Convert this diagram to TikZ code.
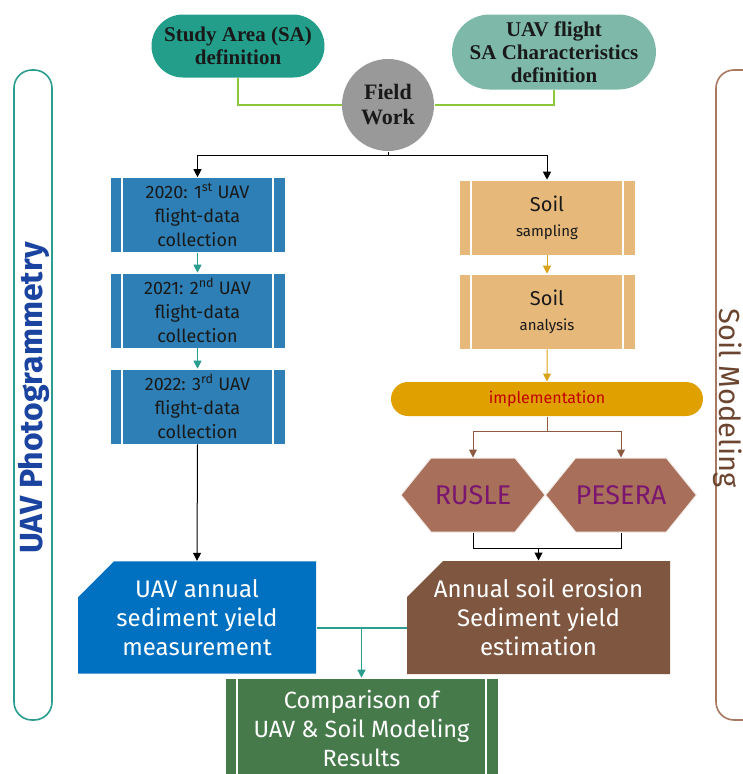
\documentclass[tikz,border=0pt]{standalone}
\usepackage{fontspec}
\setsansfont{Fira Sans}
\newfontfamily\titleserif{Liberation Serif}
\usetikzlibrary{arrows.meta,shapes.misc,shapes.symbols}
\definecolor{sateal}{HTML}{229E8A}
\definecolor{flightteal}{HTML}{7DB8A8}
\definecolor{fieldgrey}{HTML}{999999}
\definecolor{linkgreen}{HTML}{8CC63F}
\definecolor{yearblue}{HTML}{2E7FB5}
\definecolor{stepteal}{HTML}{2A9D8F}
\definecolor{soilsand}{HTML}{E6B87A}
\definecolor{soilgold}{HTML}{D9A21B}
\definecolor{implgold}{HTML}{E0A000}
\definecolor{impltext}{HTML}{C00000}
\definecolor{modelbrown}{HTML}{8B5A40}
\definecolor{hexfill}{HTML}{A8705A}
\definecolor{hextext}{HTML}{7A1670}
\definecolor{uavblue}{HTML}{0070C0}
\definecolor{erosionbrown}{HTML}{7F5640}
\definecolor{compgreen}{HTML}{467A4B}
\definecolor{photoblue}{HTML}{1A44A0}
\definecolor{sidebrown}{HTML}{A87860}
\definecolor{sidetext}{HTML}{6B4530}

\begin{document}
\begin{tikzpicture}[
  x=1pt,
  y=-1pt,
  line width=1pt,
  >={Triangle[width=8pt,length=8pt]},
  pill/.style={rounded rectangle, align=center, inner sep=2pt,
    font=\titleserif\fontsize{21}{23}\selectfont\bfseries, text=black!90},
  procbox/.style={draw=white, line width=0.6pt, align=center, inner sep=0pt,
    minimum width=175pt, minimum height=75pt,
    path picture={
      \draw[white, line width=1.2pt]
        ([xshift=12pt]path picture bounding box.north west) --
        ([xshift=12pt]path picture bounding box.south west);
      \draw[white, line width=1.2pt]
        ([xshift=-12pt]path picture bounding box.north east) --
        ([xshift=-12pt]path picture bounding box.south east);
    }},
  hexbox/.style={signal, signal to=west and east, signal pointer angle=102,
    fill=hexfill, draw=white!85!hexfill, line width=1pt, inner sep=0pt,
    minimum width=144pt, minimum height=74pt, text=hextext,
    font=\sffamily\fontsize{27}{29}\selectfont},
  cutbox/.style={chamfered rectangle, chamfered rectangle corners=north west,
    chamfered rectangle xsep=18pt, chamfered rectangle ysep=18pt,
    inner sep=0pt, align=center, text=white,
    font=\sffamily\fontsize{24}{29}\selectfont},
  soiltext/.style={font=\sffamily\fontsize{20}{25}\selectfont},
  sidebar/.style={line width=1.6pt, rounded corners=18pt}
]
  \useasboundingbox (0,0) rectangle (743,774);

  % side bands
  \draw[sidebar, stepteal] (14,70) rectangle (52,720);
  \draw[sidebar, sidebrown] (716,70) rectangle (770,720);
  \node[rotate=90, text=photoblue, font=\sffamily\bfseries\fontsize{32}{34}\selectfont]
    (photo) at (34,398) {UAV Photogrammetry};
  \node[rotate=-90, inner sep=0pt, text=sidetext, font=\sffamily\fontsize{29}{31}\selectfont]
    (model) at (728,398) {Soil Modeling};

  % top
  \node[pill, fill=sateal, minimum width=177pt, minimum height=63pt]
    (sa) at (238,46) {Study Area (SA)\\definition};
  \node[pill, fill=flightteal, minimum width=192pt, minimum height=75pt]
    (flight) at (554,52) {UAV flight\\SA Characteristics\\definition};
  \node[circle, fill=fieldgrey, minimum size=92pt, inner sep=0pt, align=center,
    font=\titleserif\fontsize{22}{25}\selectfont\bfseries, text=black!90]
    (field) at (388,105) {Field\\Work};

  \draw[linkgreen, line width=1.2pt] (sa.south) |- (field.west);
  \draw[linkgreen, line width=1.2pt] (flight.south) |- (field.east);

  % UAV branch
  \begin{scope}[every node/.style={procbox, fill=yearblue, text=black!90,
      font=\sffamily\fontsize{18}{24}\selectfont}]
    \node (y20) at (197.5,215) {2020: 1\textsuperscript{st} UAV\\flight-data\\collection};
    \node (y21) at (197.5,310.5) {2021: 2\textsuperscript{nd} UAV\\flight-data\\collection};
    \node (y22) at (197.5,406.5) {2022: 3\textsuperscript{rd} UAV\\flight-data\\collection};
  \end{scope}

  % soil branch
  \begin{scope}[every node/.style={procbox, fill=soilsand, minimum width=176pt,
      soiltext, text=black!90}]
    \node (samp) at (547,217.5) {Soil\\{\fontsize{15}{17}\selectfont sampling}};
    \node (anal) at (547,311.5) {Soil\\{\fontsize{15}{17}\selectfont analysis}};
  \end{scope}

  \node[rounded rectangle, fill=implgold, minimum width=312pt, minimum height=34pt,
    inner sep=0pt, text=impltext, font=\sffamily\fontsize{16}{18}\selectfont]
    (impl) at (547,399) {implementation};

  \node[hexbox] (rusle) at (473,495) {RUSLE};
  \node[hexbox] (pesera) at (621,495) {PESERA};

  % outputs
  \node[cutbox, fill=uavblue, minimum width=238pt, minimum height=99pt]
    (uavsed) at (197,617.5) {UAV annual\\sediment yield\\measurement};
  \node[cutbox, fill=erosionbrown, minimum width=263pt, minimum height=99pt]
    (erosion) at (538.5,617.5) {Annual soil erosion\\Sediment yield\\estimation};

  \node[procbox, fill=compgreen, minimum width=273pt, minimum height=100pt,
    text=white, font=\sffamily\fontsize{23.5}{29}\selectfont]
    (comp) at (361.5,728) {Comparison of\\UAV \& Soil Modeling\\Results};

  % connectors
  \draw (field.south) -- ++(0,4) coordinate (fsplit);
  \draw[->] (fsplit) -| (y20.north);
  \draw[->] (fsplit) -| (samp.north);

  \draw[->, stepteal] (y20) -- (y21);
  \draw[->, stepteal] (y21) -- (y22);
  \draw[->] (y22.south) -- (uavsed.north);

  \draw[->, soilgold] (samp) -- (anal);
  \draw[->, soilgold] (anal) -- (impl);

  \draw[modelbrown] (impl.south) -- ++(0,15) coordinate (isplit);
  \draw[->, modelbrown] (isplit) -| (rusle.north);
  \draw[->, modelbrown] (isplit) -| (pesera.north);

  \draw (rusle.south) -- ++(0,16) coordinate (rjoin) -| (pesera.south);
  \draw[->] (rjoin -| erosion.north) -- (erosion.north);

  \coordinate (tjoin) at (362,628);
  \draw[stepteal, line width=1.4pt] (tjoin -| uavsed.east) -- (tjoin -| erosion.west);
  \draw[->, stepteal, line width=1.4pt] (tjoin -| comp.north) -- (comp.north);
\end{tikzpicture}
\end{document}
